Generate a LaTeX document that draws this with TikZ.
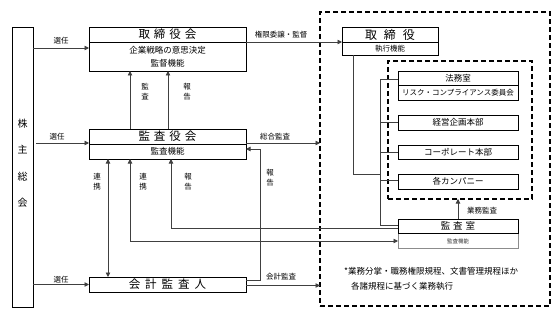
\documentclass[tikz,border=0pt]{standalone}
\usepackage{fontspec}
\setmainfont{Noto Sans CJK JP}
\usetikzlibrary{arrows.meta}
\begin{document}
\begin{tikzpicture}[x=1pt,y=-1pt,
 box/.style={draw=black, line width=0.8pt, inner sep=0pt, outer sep=0pt},
 conn/.style={draw=black!75, line width=0.7pt},
 arr/.style={conn, -{Triangle[length=4.5pt,width=4.5pt]}},
 darr/.style={conn, {Triangle[length=4.5pt,width=4.5pt]}-{Triangle[length=4.5pt,width=4.5pt]}},
 dbox/.style={draw=black, line width=1.6pt, dash pattern=on 5pt off 3pt, inner sep=0pt, outer sep=0pt},
 lbl/.style={font=\fontsize{7.5}{10}\selectfont, inner sep=0pt, align=center},
 ttl/.style={font=\fontsize{11.5}{12}\selectfont, inner sep=0pt},
 sub/.style={font=\fontsize{8.5}{9}\selectfont, inner sep=0pt},
]
\useasboundingbox (0,0) rectangle (560,313);
% outer dashed regions
\node[dbox, minimum width=230pt, minimum height=294pt] (outer) at (435,159) {};
\node[dbox, minimum width=144pt, minimum height=138pt] (inner) at (460,130) {};
% boxes
\node[box, minimum width=21pt, minimum height=280pt] (sh) at (22.5,167) {};
\node[box, minimum width=157pt, minimum height=44pt] (bod) at (167.5,49) {};
\node[box, minimum width=157pt, minimum height=30pt] (asb) at (167.5,144) {};
\node[box, minimum width=157pt, minimum height=15pt] (aud) at (167.5,284.5) {};
\node[box, minimum width=96pt, minimum height=28pt] (dir) at (390,41) {};
\node[box, minimum width=120pt, minimum height=29pt] (legal) at (458,85.5) {};
\node[box, minimum width=120pt, minimum height=15pt] (plan) at (458,122.5) {};
\node[box, minimum width=120pt, minimum height=14pt] (corp) at (458,152) {};
\node[box, minimum width=120pt, minimum height=15pt] (comp) at (458,181.5) {};
\node[box, draw=black!45, minimum width=120pt, minimum height=29pt] (iad) at (458,233.5) {};
\draw[box] (iad.north west) rectangle (iad.east |- 0,233);
% dividers
\draw[box] (bod.west |- 0,42) -- (bod.east |- 0,42);
\draw[box] (asb.west |- 0,144) -- (asb.east |- 0,144);
\draw[box] (dir.west |- 0,42) -- (dir.east |- 0,42);
\draw[box] (legal.west |- 0,85) -- (legal.east |- 0,85);
% texts in boxes
\node[font=\fontsize{10}{26.5}\selectfont, align=center, inner sep=0pt] (shT) at (22.5,163) {株\\主\\総\\会};
\node[ttl] (bodT) at (167.5,34.5) {取\hspace{4pt}締\hspace{4pt}役\hspace{4pt}会};
\node[sub] (bodS1) at (167.5,50) {企業戦略の意思決定};
\node[sub] (bodS2) at (167.5,63) {監督機能};
\node[ttl] (asbT) at (167.5,136.5) {監\hspace{4pt}査\hspace{4pt}役\hspace{4pt}会};
\node[sub] (asbS) at (167.5,151.5) {監査機能};
\node[ttl] (audT) at (167.5,284.5) {会\hspace{5pt}計\hspace{5pt}監\hspace{5pt}査\hspace{5pt}人};
\node[ttl, font=\fontsize{12}{12}\selectfont] (dirT) at (390,34.5) {取\hspace{7pt}締\hspace{7pt}役};
\node[sub, font=\fontsize{7.5}{8}\selectfont] (dirS) at (390,48.5) {執行機能};
\node[sub] (legalT) at (458,78) {法務室};
\node[sub, font=\fontsize{7.5}{8}\selectfont] (legalS) at (458,92.5) {リスク・コンプライアンス委員会};
\node[sub] (planT) at (458,122.5) {経営企画本部};
\node[sub] (corpT) at (458,152) {コーポレート本部};
\node[sub] (compT) at (458,181.5) {各カンパニー};
\node[sub, font=\fontsize{9.5}{10}\selectfont] (iadT) at (458,226) {監\hspace{3pt}査\hspace{3pt}室};
\node[sub, font=\fontsize{5.5}{6}\selectfont, text=black!80] (iadS) at (458,241) {監査機能};
% connectors from shareholders
\draw[arr] (sh.east |- 0,48) -- (bod.west |- 0,48);
\node[lbl] (l1) at (61,41) {選任};
\draw[arr] ([xshift=3pt]sh.east |- 0,143) -- (asb.west |- 0,143);
\node[lbl] (l2) at (57,137) {選任};
\draw[arr] (sh.east |- 0,284.5) -- (aud.west);
\node[lbl] (l3) at (61,279.5) {選任};
% asb to bod
\draw[arr] (asb.north -| 130,0) -- (bod.south -| 130,0);
\draw[arr] (asb.north -| 168,0) -- (bod.south -| 168,0);
\node[lbl] (l4) at (145,92) {監\\査};
\node[lbl] (l5) at (187,92) {報\\告};
% bod to dir
\draw[arr] (bod.east |- 0,42) -- (dir.west |- 0,42);
\node[lbl] (l6) at (281,34.5) {権限委譲・監督};
% asb to outer
\draw[arr] (asb.east |- 0,143) -- (outer.west |- 0,143);
\node[lbl] (l7) at (275,137) {総合監査};
% aud to outer
\draw[arr] (aud.east |- 0,285.5) -- (outer.west |- 0,285.5);
\node[lbl] (l8) at (281,276.5) {会計監査};
% aud report to asb
\draw[arr] (aud.east |- 0,280) -- (260,280) -- (260,149) -- (asb.east |- 0,149);
\node[lbl] (l9) at (270,177.5) {報\\告};
% cooperation
\draw[darr] (asb.south -| 108,0) -- (aud.north -| 108,0);
\node[lbl] (l10) at (97,181.5) {連\\携};
\draw[darr] (asb.south -| 130,0) -- (130,241) -- (iad.west |- 0,241);
\node[lbl] (l11) at (143,181.5) {連\\携};
\draw[arr] (iad.west |- 0,228) -- (171,228) -- (asb.south -| 171,0);
\node[lbl] (l12) at (188,181.5) {報\\告};
% directors to divisions
\draw[conn] (dir.south -| 353,0) -- (353,174) -- (380,174);
\draw[conn] (legal.west |- 0,79) -- (380,79) -- (380,225) -- (iad.west |- 0,225);
\draw[conn] (380,122.5) -- (plan.west);
\draw[conn] (380,152) -- (corp.west);
\draw[conn] (380,180) -- (comp.west |- 0,180);
% internal audit
\draw[arr] (iad.north) -- (inner.south -| iad.north);
\node[lbl] (l13) at (482,211) {業務監査};
% note
\node[sub, anchor=west] (n1) at (344,271.5) {*業務分掌・職務権限規程、文書管理規程ほか};
\node[sub, anchor=west] (n2) at (351,286.5) {各諸規程に基づく業務執行};
\end{tikzpicture}
\end{document}
